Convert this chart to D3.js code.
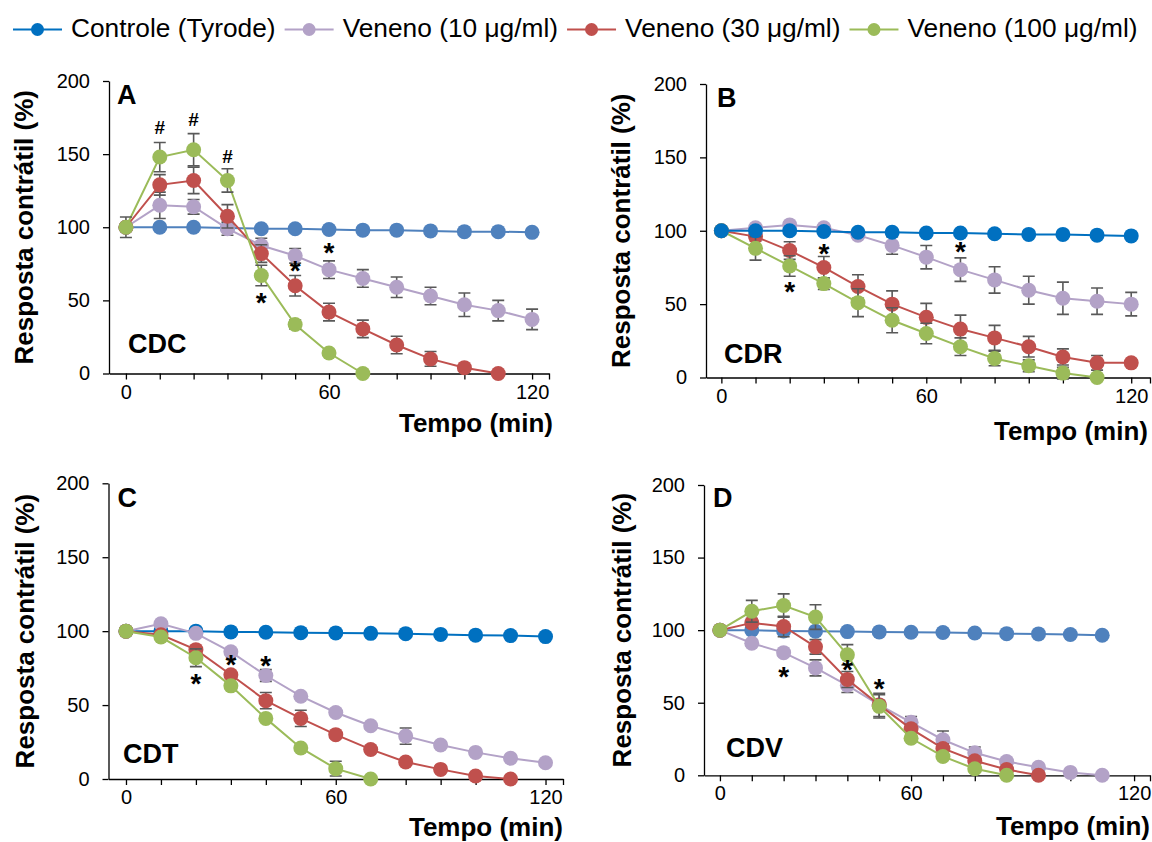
<!DOCTYPE html>
<html>
<head>
<meta charset="utf-8">
<script src="https://cdn.jsdelivr.net/npm/d3@7"></script>
<style>
  body { margin: 0; background: #fff; }
  svg { display: block; }
  text { font-family: "Liberation Sans", Arial, sans-serif; }
</style>
</head>
<body>
<svg id="chart" width="1152" height="842"></svg>
<script>
// ---------------- DATA ----------------
const tempos = [0, 10, 20, 30, 40, 50, 60, 70, 80, 90, 100, 110, 120];
const seriesNames = ["Controle (Tyrode)", "Veneno (10 \u03bcg/ml)", "Veneno (30 \u03bcg/ml)", "Veneno (100 \u03bcg/ml)"];
const yTicks = [0, 50, 100, 150, 200];
const xTickLabels = ["0", "60", "120"];
const yAxisTitle = "Resposta contr\u00e1til (%)";
const xAxisTitle = "Tempo (min)";

// Panel A - CDC
const cdcControle = [100, 100, 100, 99.5, 99, 99, 98.5, 98, 98, 97.5, 97, 97, 96.5];
const cdcV10      = [100, 115, 114, 99, 87.5, 80.5, 71, 65, 59, 53, 47, 43, 37];
const cdcV10Err   = [0, 9, 5, 4.5, 5, 5, 6, 6, 7, 6, 8, 7, 7];
const cdcV30      = [100, 129, 132, 107.5, 82, 60, 42, 30.5, 19.5, 10, 4, 0];
const cdcV30Err   = [0, 7, 9, 8, 6, 7, 6, 6, 6, 5, 2, 0];
const cdcV100     = [100, 148, 153, 132, 67, 33.5, 14, 0];
const cdcV100Err  = [7, 10, 11, 8, 7, 3, 2, 0];
const cdcMarks = [
  { t: 10, v: 168.6, s: "#" }, { t: 20, v: 174, s: "#" }, { t: 30, v: 148.8, s: "#" },
  { t: 40, v: 52.8, s: "*" }, { t: 50, v: 74.9, s: "*" }, { t: 60, v: 86.9, s: "*" }
];

// Panel B - CDR
const cdrControle = [100, 100, 100, 99.5, 99, 99, 98.5, 98.5, 98, 97.5, 97.5, 97, 96.5];
const cdrV10      = [100, 102, 104, 102, 97, 90, 82, 73.5, 66.5, 59.5, 54, 52, 50];
const cdrV10Err   = [0, 2, 2, 2, 2, 6, 8, 8, 9, 9.5, 11, 9, 8];
const cdrV30      = [100, 96, 86.5, 75, 62, 50, 41, 33, 27, 21, 14, 10, 10];
const cdrV30Err   = [0, 3, 6, 7.5, 8, 9, 9.5, 9.5, 8.5, 7, 5.5, 5, 2];
const cdrV100     = [100, 88, 76, 64, 51, 39, 30, 21, 13, 8, 3, 0];
const cdrV100Err  = [0, 8, 7, 4, 9.5, 8.5, 7, 6, 5, 4, 4, 0];
const cdrMarks = [
  { t: 20, v: 63, s: "*" }, { t: 30, v: 89.2, s: "*" }, { t: 70, v: 90.3, s: "*" }
];

// Panel C - CDT
const cdtControle = [100, 100, 100, 99.5, 99.3, 99, 98.8, 98.5, 98.3, 97.8, 97.3, 97, 96.3];
const cdtV10      = [100, 105, 98.5, 86, 70, 56, 45, 36, 29, 23, 18, 14, 11];
const cdtV10Err   = [0, 1, 1, 2, 4, 2, 2, 2, 5.5, 2, 1, 1, 1];
const cdtV30      = [100, 97.5, 87.5, 70.5, 53, 41, 30, 20, 11.5, 6.5, 2, 0];
const cdtV30Err   = [0, 1, 2, 2, 5.5, 5.5, 2, 2, 2, 2, 1, 0];
const cdtV100     = [100, 96, 82, 63, 41, 21, 7, 0];
const cdtV100Err  = [0, 1, 6, 2, 2, 2, 5, 0];
const cdtMarks = [
  { t: 20, v: 68.8, s: "*" }, { t: 30, v: 81.7, s: "*" }, { t: 40, v: 81.2, s: "*" }
];

// Panel D - CDV
const cdvControle = [100, 100, 99.5, 99.3, 99, 98.8, 98.6, 98.4, 98, 97.6, 97.4, 97, 96.5];
const cdvV10      = [100, 91, 84.5, 74, 62, 48.5, 36.5, 24.5, 15.5, 9.5, 5.5, 2, 0];
const cdvV10Err   = [0, 2, 2, 5.5, 5, 3, 4, 6, 4, 2, 1, 1, 0];
const cdvV30      = [100, 105, 102.5, 88.5, 66, 48.5, 32, 18.5, 10, 4, 0];
const cdvV30Err   = [0, 3, 7, 5, 5.5, 8, 3, 3, 2, 1, 0];
const cdvV100     = [100, 113, 117, 109, 83, 47.5, 25.5, 13, 4.5, 0];
const cdvV100Err  = [0, 7.5, 8, 8.5, 7, 8, 2, 2, 1, 0];
const cdvMarks = [
  { t: 20, v: 72.5, s: "*" }, { t: 40, v: 77.5, s: "*" }, { t: 50, v: 64.5, s: "*" }
];

// ---------------- STYLE / LAYOUT ----------------
const legendColors = ["#0070C0", "#B3A2C7", "#C0504D", "#9BBB59"];
const errColor = "#595959";
const fontFam = '"Liberation Sans", Arial, sans-serif';

const panels = [
  { letter: "A", name: "CDC", ctrl: "#4F81BD",
    data: [cdcControle, cdcV10, cdcV30, cdcV100],
    errs: [null, cdcV10Err, cdcV30Err, cdcV100Err], marks: cdcMarks,
    order: [0, 1, 2, 3],
    left: 109, right: 549, top: 81, bottom: 373.5, xDomain: [-5, 125], xLabelAt: [0, 60, 120],
    ylabX: 33, letterX: 117, letterY: 104, nameX: 128, nameY: 353, titleX: 553, titleY: 431.5 },
  { letter: "B", name: "CDR", ctrl: "#0070C0",
    data: [cdrControle, cdrV10, cdrV30, cdrV100],
    errs: [null, cdrV10Err, cdrV30Err, cdrV100Err], marks: cdrMarks,
    order: [1, 2, 3, 0],
    left: 706, right: 1150, top: 84, bottom: 377.5, xDomain: [-4.5, 125.5], xLabelAt: [0, 60, 120],
    ylabX: 630, letterX: 717, letterY: 107, nameX: 724, nameY: 363, titleX: 1148, titleY: 440 },
  { letter: "C", name: "CDT", ctrl: "#0070C0",
    data: [cdtControle, cdtV10, cdtV30, cdtV100],
    errs: [null, cdtV10Err, cdtV30Err, cdtV100Err], marks: cdtMarks,
    order: [0, 1, 2, 3],
    left: 108.5, right: 563, top: 483.3, bottom: 779, xDomain: [-5, 125], xLabelAt: [0, 60, 120],
    ylabX: 34, letterX: 117.5, letterY: 507, nameX: 123, nameY: 763, titleX: 563, titleY: 835.5 },
  { letter: "D", name: "CDV", ctrl: "#4F81BD",
    data: [cdvControle, cdvV10, cdvV30, cdvV100],
    errs: [null, cdvV10Err, cdvV30Err, cdvV100Err], marks: cdvMarks,
    order: [0, 1, 2, 3],
    left: 704, right: 1150, top: 485, bottom: 775.3, xDomain: [-5, 135], xLabelAt: [0, 60, 130],
    ylabX: 631, letterX: 713, letterY: 507, nameX: 726, nameY: 757, titleX: 1150, titleY: 835 }
];

const svg = d3.select("#chart");

// ---------------- LEGEND ----------------
const leg = svg.append("g");
let cx = 13;
const legY = 29.5;
seriesNames.forEach((name, i) => {
  leg.append("line").attr("x1", cx).attr("x2", cx + 49).attr("y1", legY).attr("y2", legY)
    .attr("stroke", legendColors[i]).attr("stroke-width", 2);
  leg.append("circle").attr("cx", cx + 24.5).attr("cy", legY).attr("r", 6.5).attr("fill", legendColors[i]);
  const t = leg.append("text").attr("x", cx + 58).attr("y", 36.5)
    .attr("font-size", 26.3).attr("fill", "#000").text(name);
  const w = t.node().getComputedTextLength();
  cx += 58 + w + 9;
});

// ---------------- PANELS ----------------
panels.forEach(p => {
  const g = svg.append("g");
  const x = d3.scaleLinear().domain(p.xDomain).range([p.left, p.right]);
  const y = d3.scaleLinear().domain([0, 200]).range([p.bottom, p.top]);

  // y axis
  const ya = g.append("g").attr("transform", `translate(${p.left},0)`)
    .call(d3.axisLeft(y).tickValues(yTicks).tickSize(6).tickSizeOuter(0).tickPadding(13));
  ya.selectAll("text").attr("font-size", 20).attr("font-family", fontFam).attr("fill", "#000");
  ya.selectAll("line,path").attr("stroke", "#000").attr("stroke-width", 1.3);

  // x axis
  const xTickVals = [];
  for (let v = 0; v <= p.xDomain[1]; v += 10) xTickVals.push(v);
  xTickVals.push(p.xDomain[1]);
  const labelMap = new Map(p.xLabelAt.map((v, i) => [v, xTickLabels[i]]));
  const xa = g.append("g").attr("transform", `translate(0,${p.bottom})`)
    .call(d3.axisBottom(x).tickValues(xTickVals).tickSize(6).tickSizeOuter(0).tickPadding(5)
      .tickFormat(d => labelMap.has(d) ? labelMap.get(d) : ""));
  xa.selectAll("text").attr("font-size", 20).attr("font-family", fontFam).attr("fill", "#000");
  xa.selectAll("line,path").attr("stroke", "#000").attr("stroke-width", 1.3);

  // titles
  g.append("text")
    .attr("transform", `translate(${p.ylabX},${(p.top + p.bottom) / 2}) rotate(-90)`)
    .attr("text-anchor", "middle").attr("font-size", 26).attr("font-weight", "bold")
    .attr("fill", "#000").text(yAxisTitle);
  g.append("text").attr("x", p.titleX).attr("y", p.titleY).attr("text-anchor", "end")
    .attr("font-size", 26).attr("font-weight", "bold").attr("fill", "#000").text(xAxisTitle);
  g.append("text").attr("x", p.letterX).attr("y", p.letterY)
    .attr("font-size", 27).attr("font-weight", "bold").attr("fill", "#000").text(p.letter);
  g.append("text").attr("x", p.nameX).attr("y", p.nameY)
    .attr("font-size", 27).attr("font-weight", "bold").attr("fill", "#000").text(p.name);

  // series: line, error bars, then markers
  const line = d3.line().x(d => x(d.t)).y(d => y(d.v));
  p.order.forEach(si => {
    const color = si === 0 ? p.ctrl : legendColors[si];
    const errs = p.errs[si];
    const pts = p.data[si].map((v, i) => ({ t: tempos[i], v: v, e: errs ? errs[i] : 0 }));
    const sg = g.append("g");
    sg.append("path").datum(pts).attr("d", line).attr("fill", "none")
      .attr("stroke", color).attr("stroke-width", 2);
    sg.selectAll("path.err").data(pts.filter(d => d.e > 0)).join("path").attr("class", "err")
      .attr("d", d => {
        const xx = x(d.t), y1 = y(d.v + d.e), y2 = y(d.v - d.e);
        return `M${xx},${y1}V${y2}M${xx - 6},${y1}h12M${xx - 6},${y2}h12`;
      })
      .attr("fill", "none").attr("stroke", errColor).attr("stroke-width", 1.6);
    sg.selectAll("circle").data(pts).join("circle")
      .attr("cx", d => x(d.t)).attr("cy", d => y(d.v)).attr("r", 7.5).attr("fill", color);
  });

  // significance marks
  p.marks.forEach(m => {
    const isStar = m.s === "*";
    const fs = isStar ? 28 : 19;
    const off = isStar ? 0.57 * fs : 0.35 * fs;
    g.append("text").attr("x", x(m.t)).attr("y", y(m.v) + off)
      .attr("text-anchor", "middle").attr("font-size", fs).attr("font-weight", "bold")
      .attr("fill", "#000").text(m.s);
  });
});
</script>
</body>
</html>
